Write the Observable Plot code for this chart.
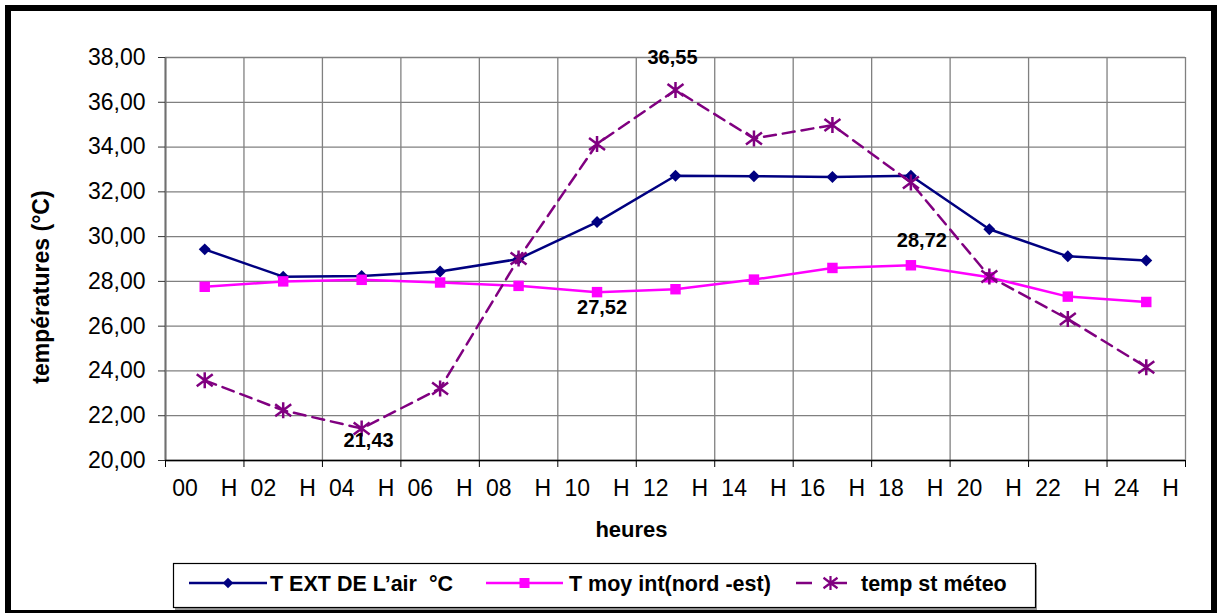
<!DOCTYPE html>
<html>
<head>
<meta charset="utf-8">
<script src="https://cdn.jsdelivr.net/npm/d3@7"></script>
<script src="https://cdn.jsdelivr.net/npm/@observablehq/plot@0.6"></script>
<style>
  body { margin: 0; background: #fff; font-family: "Liberation Sans", Arial, sans-serif; }
  #wrap { position: relative; width: 1220px; height: 613px; overflow: hidden; background: #fff; }
  #wrap > svg { position: absolute; left: 0; top: 0; }
  #frame { position: absolute; left: 5px; top: 5px; width: 1200px; height: 599px;
           border: 6px solid #000; border-bottom-width: 3px; pointer-events: none; }
</style>
</head>
<body>
<div id="wrap"><div id="frame"></div></div>
<script>
// ---- data ----
const hours = ["00", "02", "04", "06", "08", "10", "12", "14", "16", "18", "20", "22", "24"];
const tExt   = [29.43, 28.21, 28.24, 28.44, 29.00, 30.65, 32.72, 32.70, 32.66, 32.72, 30.33, 29.12, 28.93];
const tMoy   = [27.76, 28.00, 28.07, 27.95, 27.80, 27.52, 27.65, 28.08, 28.60, 28.72, 28.18, 27.32, 27.08];
const tMeteo = [23.58, 22.24, 21.43, 23.22, 29.02, 34.14, 36.55, 34.38, 34.98, 32.42, 28.22, 26.32, 24.17];
const seriesNames = ["T EXT DE L\u2019air  \u00B0C", "T moy int(nord -est)", "temp st m\u00E9teo"];
const yTicks = [20, 22, 24, 26, 28, 30, 32, 34, 36, 38];
const yTitle = "temp\u00E9ratures (\u00B0C)";
const xTitle = "heures";

// ---- helpers ----
const idx = hours.map((_, i) => i);
const bounds = d3.range(hours.length + 1).map(i => i - 0.5);
const fmt = v => v.toFixed(2).replace(".", ",");
const NAVY = "#000080", MAG = "#FF00FF", PURP = "#800080";
const FONT = '"Liberation Sans", Arial, sans-serif';

const starSymbol = {
  draw(ctx, size) {
    const r = Math.sqrt(size / Math.PI);
    ctx.moveTo(0, -r); ctx.lineTo(0, r);
    const a = r * 1.0, b = r * 0.75;
    ctx.moveTo(-a, -b); ctx.lineTo(a, b);
    ctx.moveTo(-a, b); ctx.lineTo(a, -b);
  }
};

const chart = Plot.plot({
  width: 1220, height: 613,
  marginLeft: 165, marginRight: 35, marginTop: 57, marginBottom: 153,
  style: { fontFamily: FONT, fontSize: "23px", color: "#000", background: "transparent", overflow: "visible" },
  x: { type: "linear", domain: [-0.5, hours.length - 0.5] },
  y: { domain: [20, 38] },
  marks: [
    Plot.gridY(yTicks, { stroke: "#808080", strokeOpacity: 1, strokeWidth: 1.3 }),
    Plot.gridX(bounds, { stroke: "#808080", strokeOpacity: 1, strokeWidth: 1.3 }),
    Plot.ruleX([-0.5], { stroke: "#707070", strokeWidth: 2 }),
    Plot.ruleY([20], { stroke: "#000", strokeWidth: 1.6 }),
    Plot.axisY(yTicks, { tickSize: 7, tickPadding: 13, tickFormat: fmt, label: null, stroke: "#333" }),
    Plot.axisX(bounds, { tickSize: 7, tickFormat: () => "", label: null, stroke: "#000" }),
    Plot.axisX(idx, { tickSize: 0, tickPadding: 19, tickFormat: i => hours[i] + "\u2003H", label: null }),

    Plot.line(idx, { x: i => i, y: i => tExt[i], stroke: NAVY, strokeWidth: 2.5 }),
    Plot.dot(idx, { x: i => i, y: i => tExt[i], symbol: "diamond2", r: 5.4, fill: NAVY, stroke: "none" }),

    Plot.line(idx, { x: i => i, y: i => tMoy[i], stroke: MAG, strokeWidth: 2.5 }),
    Plot.dot(idx, { x: i => i, y: i => tMoy[i], symbol: "square", r: 5.9, fill: MAG, stroke: "none" }),

    Plot.line(idx, { x: i => i, y: i => tMeteo[i], stroke: PURP, strokeWidth: 2.5, strokeDasharray: "12,7" }),
    Plot.dot(idx, { x: i => i, y: i => tMeteo[i], symbol: starSymbol, r: 8, fill: "none", stroke: PURP, strokeWidth: 2.5 }),

    // data labels
    Plot.text([6], { x: i => i, y: i => tMeteo[i], text: i => fmt(tMeteo[i]), dx: -3, dy: -32, fontWeight: "bold", fontSize: 20 }),
    Plot.text([2], { x: i => i, y: i => tMeteo[i], text: i => fmt(tMeteo[i]), dx: 7, dy: 12, fontWeight: "bold", fontSize: 20 }),
    Plot.text([5], { x: i => i, y: i => tMoy[i], text: i => fmt(tMoy[i]), dx: 5, dy: 15, fontWeight: "bold", fontSize: 20 }),
    Plot.text([9], { x: i => i, y: i => tMoy[i], text: i => fmt(tMoy[i]), dx: 11, dy: -25, fontWeight: "bold", fontSize: 20 }),

    // axis titles
    Plot.text([yTitle], { frameAnchor: "left", textAnchor: "middle", text: d => d, rotate: -90, dx: -124, dy: 28, fontWeight: "bold", fontSize: 23 }),
    Plot.text([xTitle], { frameAnchor: "bottom", text: d => d, dx: -44, dy: 69, lineAnchor: "middle", fontWeight: "bold", fontSize: 22 })
  ]
});
document.getElementById("wrap").prepend(chart);

// ---- legend ----
const lg = d3.select("#wrap").append("svg")
  .attr("width", 1220).attr("height", 613)
  .style("position", "absolute").style("left", "0").style("top", "0").style("pointer-events", "none");
lg.append("rect").attr("x", 175).attr("y", 565).attr("width", 862).attr("height", 45).attr("fill", "#999");
lg.append("rect").attr("x", 173.5).attr("y", 563.5).attr("width", 862).attr("height", 44)
  .attr("fill", "#fff").attr("stroke", "#000").attr("stroke-width", 1.2);
const ly = 583;
const items = [
  { x0: 189, x1: 267, tx: 270, color: NAVY, dash: null, sym: "diamond" },
  { x0: 486, x1: 563, tx: 569, color: MAG, dash: null, sym: "square" },
  { x0: 796, x1: 857, tx: 861, color: PURP, dash: "16,19", sym: "star" }
];
items.forEach((it, k) => {
  const cx = (it.x0 + it.x1) / 2 + (it.sym === "star" ? 4 : 0);
  const ln = lg.append("line").attr("x1", it.x0).attr("x2", it.x1).attr("y1", ly).attr("y2", ly)
    .attr("stroke", it.color).attr("stroke-width", 2.5);
  if (it.dash) ln.attr("stroke-dasharray", it.dash);
  if (it.sym === "diamond") {
    lg.append("path").attr("d", d3.symbol(d3.symbolDiamond2, 70)())
      .attr("transform", `translate(${cx},${ly})`).attr("fill", it.color);
  } else if (it.sym === "square") {
    lg.append("rect").attr("x", cx - 5).attr("y", ly - 5).attr("width", 10).attr("height", 10).attr("fill", it.color);
  } else {
    const r = 7;
    lg.append("path").attr("d", `M${cx},${ly - r}L${cx},${ly + r}M${cx - r},${ly - r * 0.75}L${cx + r},${ly + r * 0.75}M${cx - r},${ly + r * 0.75}L${cx + r},${ly - r * 0.75}`)
      .attr("stroke", it.color).attr("stroke-width", 2.2).attr("fill", "none");
  }
  lg.append("text").attr("x", it.tx).attr("y", ly).attr("dy", "0.35em")
    .attr("font-family", FONT).attr("font-weight", "bold").attr("font-size", 21.5)
    .style("white-space", "pre").text(seriesNames[k]);
});
</script>
</body>
</html>
